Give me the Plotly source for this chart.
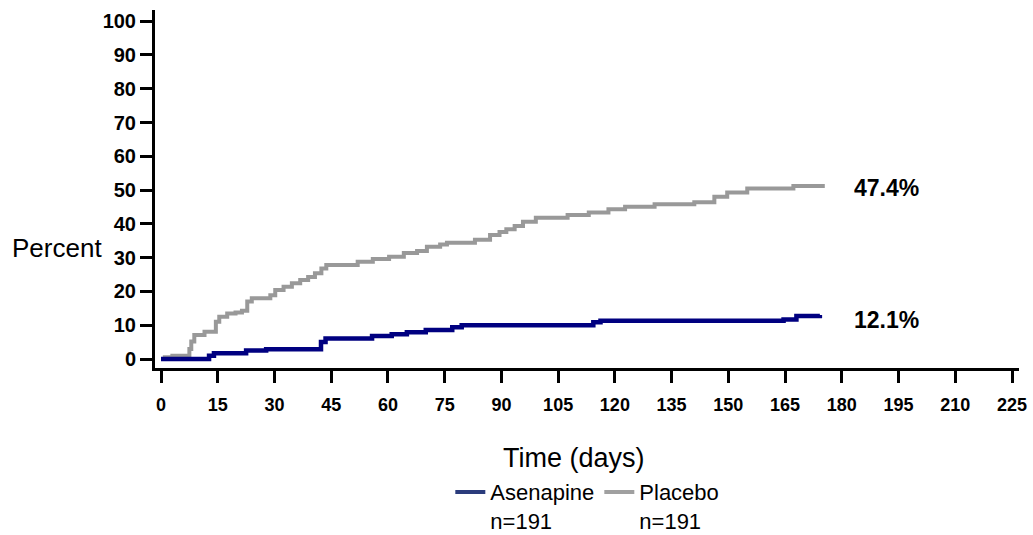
import plotly.graph_objects as go

# ---- data ----
placebo_days = [0, 1, 3, 7.5, 8, 8.8, 11.5, 14.5, 15.4, 17.5, 19.7, 21.4, 22.8, 24, 28.9,
                30.2, 32.4, 34.6, 36.8, 38.9, 40.7, 42.4, 43.7, 52, 56, 60.3, 64.2, 67.7,
                70.3, 73.8, 75.6, 83, 87, 89.5, 91.3, 93.5, 95.7, 99.1, 107.5, 113.1,
                118.3, 122.7, 130.5, 141, 146.3, 149.7, 155, 167.2, 175.5]
placebo_pct = [0, 0.5, 1.0, 3.0, 5.2, 7.1, 8.1, 11.0, 12.5, 13.5, 13.8, 14.3, 17.0, 18.0, 18.9,
               20.4, 21.4, 22.4, 23.4, 24.3, 25.4, 26.8, 27.8, 28.8, 29.6, 30.3, 31.4, 32.0,
               33.2, 33.9, 34.4, 35.3, 36.7, 37.6, 38.4, 39.4, 40.6, 41.8, 42.6, 43.4,
               44.3, 45.1, 45.8, 46.4, 48.0, 49.3, 50.5, 51.2, 51.2]

asen_days = [0, 12.7, 14, 22.5, 27.8, 42.3, 43.5, 55.8, 61, 65, 70, 77, 79.5,
             114.3, 116.2, 164.6, 168, 174.2]
asen_pct = [0, 1.0, 1.7, 2.5, 2.9, 5.0, 6.1, 6.8, 7.3, 7.9, 8.6, 9.4, 10.0,
            10.9, 11.3, 11.7, 12.7, 13.0]

series_names = ["Asenapine<br>n=191", "Placebo<br>n=191"]
end_labels = ["12.1%", "47.4%"]
x_ticks = list(range(0, 226, 15))
y_ticks = list(range(0, 101, 10))

NAVY = "#000080"
GRAY = "#999999"
FONT = "Liberation Sans, Arial, sans-serif"

fig = go.Figure()
fig.add_trace(go.Scatter(x=placebo_days, y=placebo_pct, mode="lines", line_shape="hv",
                         line=dict(color=GRAY, width=4), showlegend=False, hoverinfo="skip"))
fig.add_trace(go.Scatter(x=asen_days, y=asen_pct, mode="lines", line_shape="hv",
                         line=dict(color=NAVY, width=4.5), showlegend=False, hoverinfo="skip"))
# legend entries
fig.add_trace(go.Scatter(x=[None], y=[None], mode="lines", name=series_names[0],
                         line=dict(color="#2B3C7C", width=4)))
fig.add_trace(go.Scatter(x=[None], y=[None], mode="lines", name=series_names[1],
                         line=dict(color="#A0A0A0", width=4)))

fig.add_annotation(x=182.8, y=placebo_pct[-1] - 0.6, xref="x", yref="y", text="<b>" + end_labels[1] + "</b>",
                   showarrow=False, xanchor="left", yanchor="middle",
                   font=dict(family=FONT, size=23, color="black"))
fig.add_annotation(x=182.8, y=asen_pct[-1] - 1.5, xref="x", yref="y", text="<b>" + end_labels[0] + "</b>",
                   showarrow=False, xanchor="left", yanchor="middle",
                   font=dict(family=FONT, size=23, color="black"))
fig.add_annotation(x=-0.1140, y=0.335, xref="paper", yref="paper", text="Percent",
                   showarrow=False, xanchor="center", yanchor="middle",
                   font=dict(family=FONT, size=26, color="black"))
fig.add_annotation(x=0.4850, y=-0.2514, xref="paper", yref="paper", text="Time (days)",
                   showarrow=False, xanchor="center", yanchor="middle",
                   font=dict(family=FONT, size=27, color="black"))

fig.update_layout(
    width=1033, height=535,
    margin=dict(l=155, r=14, t=10, b=167, autoexpand=False),
    plot_bgcolor="white", paper_bgcolor="white",
    font=dict(family=FONT, color="black"),
    legend=dict(orientation="h", x=0.3418, y=-0.288, xanchor="left", yanchor="top",
                font=dict(family=FONT, size=22, color="black"), valign="top",
                bgcolor="rgba(0,0,0,0)", tracegroupgap=0, itemwidth=30,
                entrywidth=104, entrywidthmode="pixels"),
    xaxis=dict(range=[-1.59, 226.85], tickmode="array", tickvals=x_ticks,
               ticktext=[str(v) for v in x_ticks], ticklabeloverflow="allow",
               ticklabelstandoff=6,
               showline=True, linecolor="black", linewidth=3, mirror=False,
               ticks="outside", ticklen=12, tickwidth=2.5, tickcolor="black",
               showgrid=False, zeroline=False,
               tickfont=dict(family=FONT, size=18, color="black", weight="bold")),
    yaxis=dict(range=[-2.66, 103.3], tickmode="array", tickvals=y_ticks,
               ticktext=[str(v) for v in y_ticks],
               showline=True, linecolor="black", linewidth=3, mirror=False,
               ticks="outside", ticklen=12, tickwidth=3, tickcolor="black",
               showgrid=False, zeroline=False,
               tickfont=dict(family=FONT, size=20, color="black", weight="bold")),
)

fig.write_html("out.html", config={"displayModeBar": False},
               post_script="document.body.style.margin='0';document.body.style.overflow='hidden';")
